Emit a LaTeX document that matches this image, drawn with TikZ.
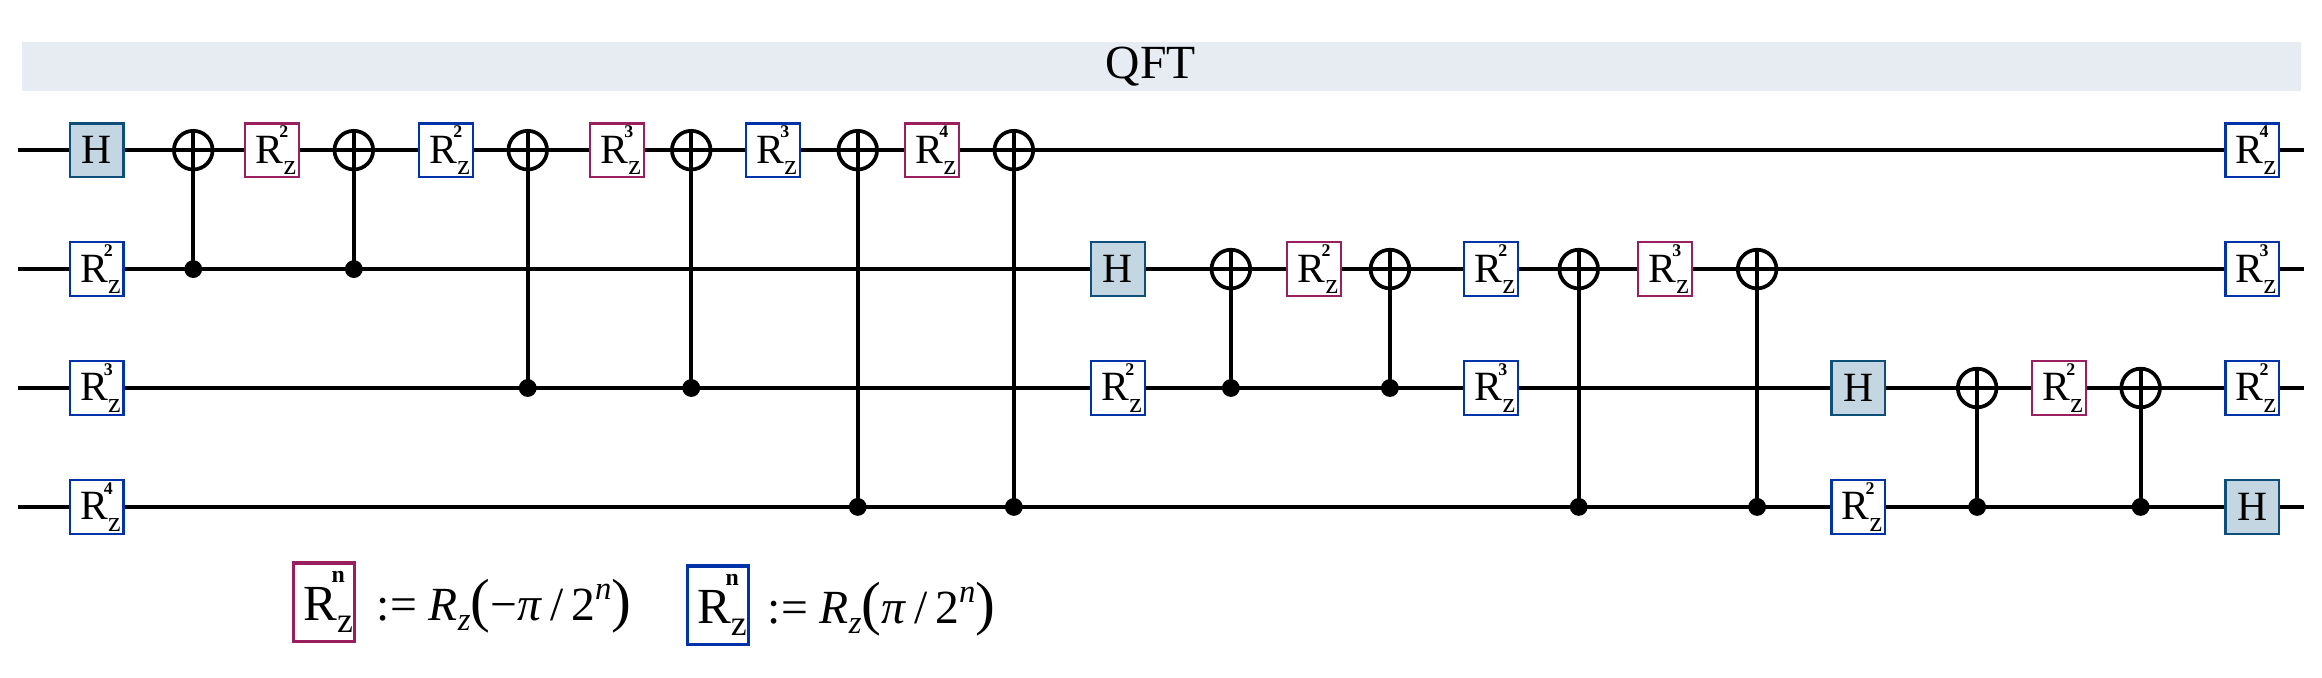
\documentclass[tikz,border=0pt]{standalone}
\usepackage{fontspec}
\setmainfont{Liberation Serif}
\definecolor{rzred}{HTML}{9A1F5E}
\definecolor{rzblue}{HTML}{0033AA}
\definecolor{hfill}{HTML}{C3D6E2}
\definecolor{hdraw}{HTML}{0E4F7A}
\definecolor{band}{HTML}{E6ECF2}
\newcommand{\myrz}[1]{R\raisebox{-0.28em}{\fontsize{19}{19}\selectfont z}\hspace{-0.40em}\raisebox{0.62em}{\fontsize{12}{12}\selectfont\bfseries #1}}
\tikzset{
 wire/.style={line width=2.5pt},
 gate/.style={draw, line width=1.5pt, fill=white, minimum size=36pt, inner sep=0pt, font=\fontsize{28}{28}\selectfont},
 rg/.style={gate, draw=rzred},
 bg/.style={gate, draw=rzblue},
 hg/.style={gate, draw=hdraw, fill=hfill},
 targ/.style={circle, draw, line width=2.5pt, fill=white, minimum size=26pt, inner sep=0pt},
 ctrl/.style={circle, fill=black, minimum size=12pt, inner sep=0pt},
}
\newcommand{\mytarget}[2]{\node[targ] (#1) at #2 {}; \draw[line width=2.5pt] (#1.north) -- (#1.south) (#1.west) -- (#1.east);}
\begin{document}
\begin{tikzpicture}[x=1pt,y=-1pt]
\useasboundingbox (0,0) rectangle (1562,456);
\fill[band] (15,28) rectangle (1548,61);
\node[font=\fontsize{32}{32}\selectfont] (qft) at (774,45) {QFT};
\foreach \i/\y in {0/101,1/181,2/261,3/341}{
 \coordinate (s\i) at (12,\y); \coordinate (e\i) at (1550,\y);
 \draw[wire] (s\i) -- (e\i);}
\foreach \n/\x/\y in {c1/130/181,c2/238/181,c3/355/261,c4/465/261,c5/577/341,c6/682/341,c7/828/261,c8/935/261,c9/1062/341,c10/1182/341,c11/1330/341,c12/1440/341}
 \node[ctrl] (\n) at (\x,\y) {};
\mytarget{t1}{(130,101)}\mytarget{t2}{(238,101)}\mytarget{t3}{(355,101)}\mytarget{t4}{(465,101)}
\mytarget{t5}{(577,101)}\mytarget{t6}{(682,101)}\mytarget{t7}{(828,181)}\mytarget{t8}{(935,181)}
\mytarget{t9}{(1062,181)}\mytarget{t10}{(1182,181)}\mytarget{t11}{(1330,261)}\mytarget{t12}{(1440,261)}
\foreach \k in {1,...,12} \draw[wire] (c\k.center) -- (t\k.north);
\node[hg] (h0) at (65,101) {H};
\node[bg] (a1) at (65,181) {\myrz{2}};
\node[bg] (a2) at (65,261) {\myrz{3}};
\node[bg] (a3) at (65,341) {\myrz{4}};
\node[rg] (g1) at (183,101) {\myrz{2}};
\node[bg] (g2) at (300,101) {\myrz{2}};
\node[rg] (g3) at (415,101) {\myrz{3}};
\node[bg] (g4) at (520,101) {\myrz{3}};
\node[rg] (g5) at (627,101) {\myrz{4}};
\node[hg] (h1) at (752,181) {H};
\node[bg] (g6) at (752,261) {\myrz{2}};
\node[rg] (g7) at (884,181) {\myrz{2}};
\node[bg] (g8) at (1003,181) {\myrz{2}};
\node[bg] (g9) at (1003,261) {\myrz{3}};
\node[rg] (g10) at (1120,181) {\myrz{3}};
\node[hg] (h2) at (1250,261) {H};
\node[bg] (g11) at (1250,341) {\myrz{2}};
\node[rg] (g12) at (1385,261) {\myrz{2}};
\node[bg] (z0) at (1515,101) {\myrz{4}};
\node[bg] (z1) at (1515,181) {\myrz{3}};
\node[bg] (z2) at (1515,261) {\myrz{2}};
\node[hg] (h3) at (1515,341) {H};
% legend
\node[rg, line width=2.5pt, minimum width=41pt, minimum height=53pt, font=\fontsize{34}{34}\selectfont] (l1) at (218,405) {R\raisebox{-0.25em}{\fontsize{24}{24}\selectfont z}\hspace{-0.42em}\raisebox{0.75em}{\fontsize{16}{16}\selectfont\bfseries n}};
\node[bg, line width=2.5pt, minimum width=41pt, minimum height=53pt, font=\fontsize{34}{34}\selectfont] (l2) at (483,407) {R\raisebox{-0.25em}{\fontsize{24}{24}\selectfont z}\hspace{-0.42em}\raisebox{0.75em}{\fontsize{16}{16}\selectfont\bfseries n}};
\node[anchor=west, font=\fontsize{32}{32}\selectfont] (f1) at (250,408) {:= \textit{R}\raisebox{-0.2em}{\fontsize{22}{22}\selectfont\textit{z}}{\fontsize{40}{40}\selectfont(}−\textit{π}\,/\,2\raisebox{0.45em}{\fontsize{22}{22}\selectfont\textit{n}}{\fontsize{40}{40}\selectfont)}};
\node[anchor=west, font=\fontsize{32}{32}\selectfont] (f2) at (513,410) {:= \textit{R}\raisebox{-0.2em}{\fontsize{22}{22}\selectfont\textit{z}}{\fontsize{40}{40}\selectfont(}\textit{π}\,/\,2\raisebox{0.45em}{\fontsize{22}{22}\selectfont\textit{n}}{\fontsize{40}{40}\selectfont)}};
\end{tikzpicture}
\end{document}
